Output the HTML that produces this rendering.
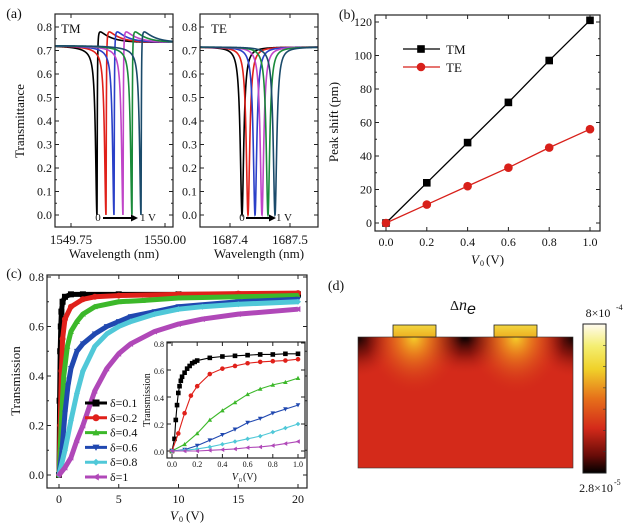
<!DOCTYPE html>
<html><head><meta charset="utf-8"><style>
body{margin:0;background:#fff;}
svg{display:block;font-family:"Liberation Serif",serif;}
</style></head><body>
<svg id="fig" width="628" height="530" viewBox="0 0 628 530" xmlns="http://www.w3.org/2000/svg">
<defs>
<linearGradient id="cbar" x1="0" y1="1" x2="0" y2="0">
<stop offset="0" stop-color="#000"/><stop offset="0.12" stop-color="#6a0c08"/><stop offset="0.3" stop-color="#d42a1a"/><stop offset="0.5" stop-color="#e6701a"/><stop offset="0.7" stop-color="#f0d22a"/><stop offset="0.85" stop-color="#f4ee70"/><stop offset="1" stop-color="#fffbf0"/>
</linearGradient>
<radialGradient id="hot" cx="0.5" cy="0.5" r="0.5"><stop offset="0" stop-color="#f6d02a"/><stop offset="0.3" stop-color="#ec8a1e" stop-opacity="0.85"/><stop offset="1" stop-color="#d42a1a" stop-opacity="0"/></radialGradient>
<radialGradient id="dark" cx="0.5" cy="0.5" r="0.5"><stop offset="0" stop-color="#000"/><stop offset="0.45" stop-color="#6a0c08" stop-opacity="0.7"/><stop offset="1" stop-color="#d42a1a" stop-opacity="0"/></radialGradient>
<linearGradient id="elec" x1="0" y1="0" x2="0" y2="1"><stop offset="0" stop-color="#f2d640"/><stop offset="1" stop-color="#eeb020"/></linearGradient>
<clipPath id="mapclip"><rect x="358" y="337" width="215" height="131"/></clipPath>
</defs>
<g id="root"></g>
</svg>
<script>
// ---------- data ----------
const tmDips = [1549.8191,1549.8431,1549.8644,1549.8883,1549.9122,1549.9362];
const teDips = [1687.4200,1687.4300,1687.4417,1687.4533,1687.4633,1687.4750];
const specColors = ["#000000","#e0201a","#2a40c8","#c045c8","#1a8a3a","#1a4a6a"];
const aYTicks = [0,0.1,0.2,0.3,0.4,0.5,0.6,0.7,0.8];
const tmXTicks = [1549.75,1550.00];
const teXTicks = [1687.4,1687.5];

const bV = [0,0.2,0.4,0.6,0.8,1.0];
const bTM = [0,24,48,72,97,121];
const bTE = [0,11,22,33,45,56];
const bYTicks = [0,20,40,60,80,100,120];
const bXTicks = [0,0.2,0.4,0.6,0.8,1.0];

const cLabels = ["δ=0.1","δ=0.2","δ=0.4","δ=0.6","δ=0.8","δ=1"];
const cColors = ["#000000","#e0201a","#3cb82a","#2048b0","#50c8d8","#b048b8"];
const cMarkers = ["square","circle","triUp","triDown","diamond","triLeft"];
const cV = [
 [0,0.05,0.1,0.15,0.2,0.3,0.5,1,2,5,10,15,20],
 [0,0.1,0.2,0.3,0.5,1,2,3,5,10,15,20],
 [0,0.1,0.2,0.4,0.7,1,1.5,2,3,5,7,10,15,20],
 [0,0.25,0.5,0.75,1,1.5,2,3,4,5,6,8,10,15,20],
 [0,0.5,1,1.5,2,3,4,5,6,8,10,12,15,20],
 [0,0.5,1,1.5,2,3,4,5,6,8,10,12,15,20]
];
const cT = [
 [0,0.3,0.5,0.6,0.66,0.7,0.72,0.73,0.73,0.73,0.73,0.73,0.73],
 [0,0.2,0.42,0.55,0.63,0.68,0.71,0.72,0.725,0.73,0.733,0.735],
 [0,0.1,0.22,0.4,0.52,0.58,0.62,0.65,0.68,0.70,0.705,0.715,0.72,0.725],
 [0,0.1,0.25,0.36,0.43,0.5,0.53,0.57,0.6,0.62,0.64,0.66,0.68,0.70,0.71],
 [0,0.1,0.22,0.33,0.42,0.52,0.57,0.6,0.62,0.65,0.67,0.68,0.69,0.70],
 [0,0.03,0.07,0.14,0.2,0.34,0.43,0.49,0.53,0.58,0.61,0.63,0.65,0.67]
];
const insV = [0,0.1,0.2,0.3,0.4,0.5,0.6,0.7,0.8,0.9,1.0];
const insBlackV = [0,0.02,0.03,0.04,0.05,0.06,0.07,0.08,0.1,0.12,0.14,0.16,0.18,0.2,0.3,0.4,0.5,0.6,0.7,0.8,0.9,1.0];
const insBlackT = [0,0.09,0.23,0.34,0.43,0.48,0.52,0.55,0.58,0.61,0.63,0.65,0.66,0.67,0.69,0.70,0.705,0.71,0.715,0.715,0.72,0.72];
const insT = [
 null,
 [0,0.13,0.48,0.57,0.61,0.63,0.65,0.66,0.665,0.67,0.68],
 [0,0.05,0.13,0.23,0.30,0.36,0.42,0.46,0.49,0.51,0.54],
 [0,0.01,0.04,0.08,0.12,0.16,0.21,0.24,0.28,0.31,0.34],
 [0,0.005,0.015,0.03,0.05,0.07,0.09,0.11,0.14,0.17,0.2],
 [0,0,0,0.005,0.01,0.015,0.025,0.03,0.04,0.055,0.07]
];
const insRedV = [0,0.05,0.2,0.3,0.4,0.5,0.6,0.7,0.8,0.9,1.0];
const redExtraV = [0.1,0.15];
const redExtraT = [0.28,0.41];
const cYTicks = [0,0.2,0.4,0.6,0.8];
const cXTicks = [0,5,10,15,20];
const insYTicks = [0,0.2,0.4,0.6,0.8];
const insXTicks = [0,0.2,0.4,0.6,0.8,1.0];

// ---------- helpers ----------
const NS="http://www.w3.org/2000/svg";
const root=document.getElementById('root');
function el(tag,attrs,parent){const e=document.createElementNS(NS,tag);for(const k in attrs)e.setAttribute(k,attrs[k]);(parent||root).appendChild(e);return e;}
function txt(x,y,s,size,anchor,parent,extra){const t=el('text',Object.assign({x:x,y:y,'font-size':size,'text-anchor':anchor||'middle',fill:'#111'},extra||{}),parent);t.textContent=s;return t;}
function lin(d0,d1,p0,p1){return v=>p0+(v-d0)*(p1-p0)/(d1-d0);}
function frame(x0,y0,x1,y1,name){const r=el('rect',{x:x0,y:y0,width:x1-x0,height:y1-y0,fill:'none',stroke:'#222','stroke-width':1.2});

return r;}
function yTicks(ticks,sy,x0,x1,fmt,size,name,minor){const g=el('g',{});


ticks.forEach(t=>{const y=sy(t);el('line',{x1:x0,y1:y,x2:x0+4,y2:y,stroke:'#222'},g);el('line',{x1:x1,y1:y,x2:x1-4,y2:y,stroke:'#222'},g);txt(x0-3,y+4,fmt(t),size,'end',g);});
if(minor){for(let i=0;i<ticks.length-1;i++){const y=(sy(ticks[i])+sy(ticks[i+1]))/2;el('line',{x1:x0,y1:y,x2:x0+2,y2:y,stroke:'#222'},g);el('line',{x1:x1,y1:y,x2:x1-2,y2:y,stroke:'#222'},g);}}}
function xTicks(ticks,sx,y0,y1,fmt,size,name,ly){const g=el('g',{});


ticks.forEach(t=>{const x=sx(t);el('line',{x1:x,y1:y0,x2:x,y2:y0-4,stroke:'#222'},g);el('line',{x1:x,y1:y1,x2:x,y2:y1+4,stroke:'#222'},g);txt(x,ly,fmt(t),size,'middle',g);});}
function marker(type,x,y,s,color,parent){
 if(type==='square')return el('rect',{x:x-s,y:y-s,width:2*s,height:2*s,fill:color},parent);
 if(type==='circle')return el('circle',{cx:x,cy:y,r:s,fill:color},parent);
 let pts;
 if(type==='triUp')pts=[[x,y-s],[x-s,y+s*0.8],[x+s,y+s*0.8]];
 if(type==='triDown')pts=[[x,y+s],[x-s,y-s*0.8],[x+s,y-s*0.8]];
 if(type==='triLeft')pts=[[x-s,y],[x+s*0.8,y-s],[x+s*0.8,y+s]];
 if(type==='diamond')pts=[[x,y-s],[x+s,y],[x,y+s],[x-s,y]];
 return el('polygon',{points:pts.map(p=>p.join(',')).join(' '),fill:color},parent);}
function path(pts){return 'M'+pts.map(p=>p[0].toFixed(2)+','+p[1].toFixed(2)).join('L');}

// ---------- panel (a) ----------
txt(14,18,'(a)',14,'middle',null,{});
const tmBox={x0:55,x1:173,y0:14,y1:227};
const teBox={x0:200,x1:318,y0:14,y1:227};
const ayA=lin(0,0.8,215,27);
const sxTM=lin(1549.75,1550.00,71,165);
const sxTE=lin(1687.4,1687.5,230,290);
function tmShape(l,d){
 if(l<d){const g=0.0045;const e=(l-d)/g;const base=0.72-0.025*Math.exp((l-d)/0.04);return base*(e*e)/(1+e*e);}
 const g=0.0009;const e=(l-d)/g;const base=0.735+0.07*Math.exp(-(l-d)/0.03);return base*(e*e)/(1+e*e);}
function teShape(l,d){const g=0.0035;const e=(l-d)/g;return 0.715*(e*e)/(1+e*e);}
[[tmBox,sxTM,tmDips,tmShape,1549.7074,1550.0213,'tm'],[teBox,sxTE,teDips,teShape,1687.35,1687.5467,'te']].forEach(([b,sx,dips,fn,l0,l1,nm])=>{
 const g=el('g',{});
 
 
 dips.forEach((d,i)=>{const pts=[];const n=1500;for(let k=0;k<=n;k++){const l=l0+(l1-l0)*k/n;pts.push([sx(l),ayA(Math.max(0,fn(l,d)))]);}
  const p=el('path',{d:path(pts),fill:'none',stroke:specColors[i],'stroke-width':1.6},g);
  
  });
 frame(b.x0,b.y0,b.x1,b.y1,nm+'-axes-frame');
});
yTicks(aYTicks,ayA,tmBox.x0,tmBox.x1,v=>v.toFixed(1),12,'tm-y-ticks',true);
yTicks(aYTicks,ayA,teBox.x0,teBox.x1,v=>v.toFixed(1),12,'te-y-ticks',true);
xTicks(tmXTicks,sxTM,tmBox.y1,tmBox.y0,v=>v.toFixed(2),13,'tm-x-ticks',244);
xTicks(teXTicks,sxTE,teBox.y1,teBox.y0,v=>v.toFixed(1),13,'te-x-ticks',244);
txt(114,258,'Wavelength (nm)',13,'middle',null,{});
txt(259,258,'Wavelength (nm)',13,'middle',null,{});
txt(24,121,'Transmittance',13,'middle',null,{transform:'rotate(-90 24 121)',});
txt(61,33,'TM',13,'start',null,{});
txt(211,33,'TE',13,'start',null,{});
function arrow(x0,x1,y,name){const g=el('g',{});
 el('line',{x1:x0,y1:y,x2:x1-5,y2:y,stroke:'#000','stroke-width':2},g);el('polygon',{points:`${x1},${y} ${x1-7},${y-3.5} ${x1-7},${y+3.5}`,fill:'#000'},g);}
txt(98,221,'0',11,'middle',null,{});arrow(103,138,218,'tm-voltage-arrow');txt(140,221,'1 V',11,'start',null,{});
txt(242,221,'0',11,'middle',null,{});arrow(246,276,218,'te-voltage-arrow');txt(276,221,'1 V',11,'start',null,{});

// ---------- panel (b) ----------
txt(347,19,'(b)',14,'middle',null,{});
const bx=lin(0,1,386,590), by=lin(0,120,223,22);
frame(375,15,600,231,'b-axes-frame');
yTicks(bYTicks,by,375,600,v=>String(v),12,'b-y-ticks',true);
xTicks(bXTicks,bx,231,15,v=>v.toFixed(1),12,'b-x-ticks',246);
[[bTM,'#000','square','tm'],[bTE,'#d8201a','circle','te']].forEach(([vals,c,m,nm])=>{
 const g=el('g',{});
 el('path',{d:path(bV.map((v,i)=>[bx(v),by(vals[i])])),fill:'none',stroke:c,'stroke-width':1.3},g);
 bV.forEach((v,i)=>{const mk=marker(m,bx(v),by(vals[i]),m==='square'?3.8:4.3,c,g);
  
  });
});
txt(338,122,'Peak shift (pm)',13,'middle',null,{transform:'rotate(-90 338 122)',});
txt(479,264,'V',13,'end',null,{'font-style':'italic',});
txt(480,266,'0',8,'start',null,{});
txt(486,264,'(V)',13,'start',null,{});
{const g=el('g',{});
 el('line',{x1:403,y1:49,x2:440,y2:49,stroke:'#000','stroke-width':1.3},g);marker('square',421,49,3.8,'#000',g);txt(446,54,'TM',13,'start',g);
 el('line',{x1:403,y1:67,x2:440,y2:67,stroke:'#d8201a','stroke-width':1.3},g);marker('circle',421,67,4.3,'#d8201a',g);txt(446,72,'TE',13,'start',g);}

// ---------- panel (c) ----------
txt(14,278,'(c)',14,'middle',null,{});
const cx=lin(0,20,59,298), cy=lin(0,0.8,475,277);
frame(47,275,307,488,'c-axes-frame');
yTicks(cYTicks,cy,47,307,v=>v.toFixed(1),12,'c-y-ticks',true);
xTicks(cXTicks,cx,488,275,v=>String(v),12,'c-x-ticks',503);
cV.forEach((vs,i)=>{const g=el('g',{});
 
 
 el('path',{d:path(vs.map((v,k)=>[cx(v),cy(cT[i][k])])),fill:'none',stroke:cColors[i],'stroke-width':5,'stroke-linejoin':'round'},g);
 vs.forEach((v,k)=>{const mk=marker(cMarkers[i],cx(v),cy(cT[i][k]),3,cColors[i],g);
  
  });
});
txt(20,381,'Transmission',13,'middle',null,{transform:'rotate(-90 20 381)',});
txt(178,520,'V',13,'end',null,{'font-style':'italic',});
txt(179,522,'0',8,'start',null,{});
txt(186,520,'(V)',13,'start',null,{});
cLabels.forEach((s,i)=>{const y=403+i*14.8;const g=el('g',{});
 
 
 el('line',{x1:85,y1:y,x2:107,y2:y,stroke:cColors[i],'stroke-width':3},g);marker(cMarkers[i],96,y,3.5,cColors[i],g);txt(110,y+4,s,12,'start',g);});
const ix=lin(0,1,172,298), iy=lin(0,0.8,451,343);
el('rect',{x:167,y:342,width:138,height:116,fill:'#fff'});
frame(167,342,305,458,'inset-frame');
yTicks(insYTicks,iy,167,305,v=>v.toFixed(1),8,'inset-y-ticks',false);
xTicks(insXTicks,ix,458,342,v=>v.toFixed(1),8,'inset-x-ticks',467);
txt(150,400,'Transmission',10,'middle',null,{transform:'rotate(-90 150 400)',});
txt(238,480,'V',10,'end',null,{'font-style':'italic',});
txt(239,482,'0',6,'start',null,{});
txt(243,480,'(V)',10,'start',null,{});
for(let i=0;i<6;i++){let vs,ts;
 if(i===0){vs=insBlackV;ts=insBlackT;}
 else if(i===1){vs=insRedV.slice(0,2).concat(redExtraV,insRedV.slice(2));ts=insT[1].slice(0,2).concat(redExtraT,insT[1].slice(2));}
 else{vs=insV;ts=insT[i];}
 const g=el('g',{});
 
 
 el('path',{d:path(vs.map((v,k)=>[ix(v),iy(ts[k])])),fill:'none',stroke:cColors[i],'stroke-width':1.1},g);
 vs.forEach((v,k)=>{const mk=marker(cMarkers[i],ix(v),iy(ts[k]),2.3,cColors[i],g);
  
  });
}

// ---------- panel (d) ----------
txt(336,290,'(d)',14,'middle',null,{});
{const g=el('g',{'clip-path':'url(#mapclip)'});
 el('rect',{x:358,y:337,width:215,height:131,fill:'#d42a1a'},g);
 el('ellipse',{cx:356,cy:337,rx:44,ry:42,fill:'url(#dark)'},g);
 el('ellipse',{cx:465,cy:337,rx:52,ry:38,fill:'url(#dark)'},g);
 el('ellipse',{cx:575,cy:337,rx:44,ry:42,fill:'url(#dark)'},g);
 el('ellipse',{cx:414,cy:337,rx:48,ry:58,fill:'url(#hot)'},g);
 el('ellipse',{cx:516,cy:337,rx:48,ry:58,fill:'url(#hot)'},g);}
el('rect',{x:358,y:337,width:215,height:131,fill:'none',stroke:'#333','stroke-width':0.6});
{const e1=el('rect',{x:393,y:325,width:43,height:12,fill:'url(#elec)',stroke:'#222','stroke-width':0.8});


const e2=el('rect',{x:494,y:325,width:43,height:12,fill:'url(#elec)',stroke:'#222','stroke-width':0.8});

}
{const t=el('text',{x:450,y:310,'font-size':14,fill:'#111','text-anchor':'start'});


const a=el('tspan',{},t);a.textContent='Δ';
const b=el('tspan',{'font-style':'italic','font-size':16},t);b.textContent='n';
const c=el('tspan',{'font-style':'italic','font-size':16,dy:4,'font-family':'Liberation Sans, sans-serif'},t);c.textContent='e';}
{const cb=el('rect',{x:583,y:324,width:23,height:149,fill:'url(#cbar)',stroke:'#222','stroke-width':1});


for(let k=1;k<7;k++){el('line',{x1:603,y1:324+k*149/7,x2:606,y2:324+k*149/7,stroke:'#333','stroke-width':0.6});}}
txt(598,317,'8×10',12,'middle',null,{});
txt(616,310,'-4',8,'start',null,{});
txt(596,492,'2.8×10',12,'middle',null,{});
txt(614,485,'-5',8,'start',null,{});
</script>
</body></html>
